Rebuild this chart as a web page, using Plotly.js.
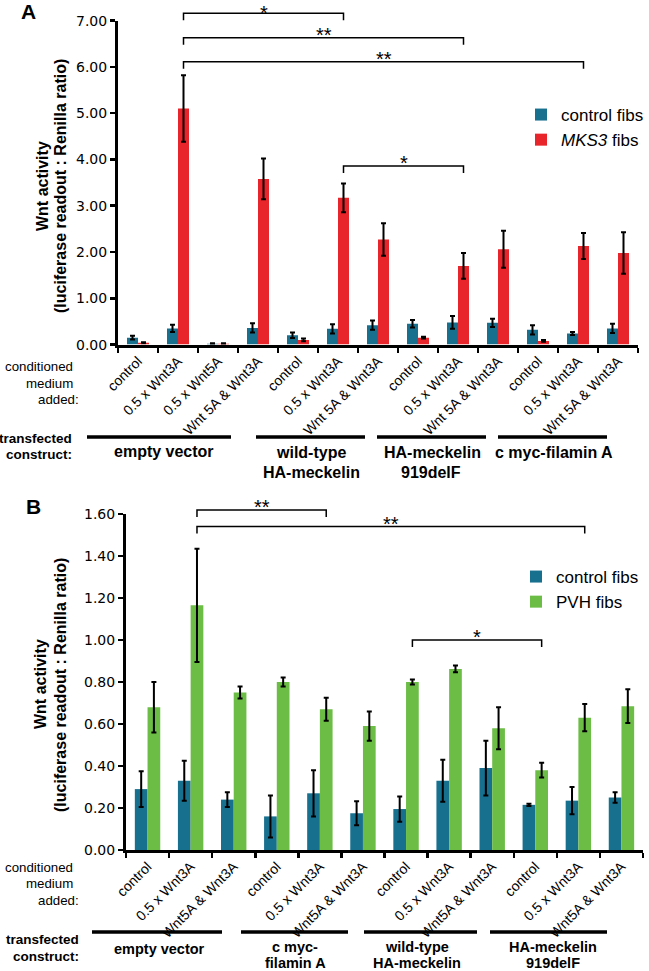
<!DOCTYPE html>
<html>
<head>
<meta charset="utf-8">
<script src="https://cdn.plot.ly/plotly-3.0.1.min.js"></script>
<style>html,body{margin:0;padding:0;background:#fff;}#chart{width:649px;height:971px;}</style>
</head>
<body>
<div id="chart"></div>
<script>
// ---------- Panel A data ----------
const groupsA = ['empty vector','empty vector','empty vector','empty vector',
  'wild-type HA-meckelin','wild-type HA-meckelin','wild-type HA-meckelin',
  'HA-meckelin 919delF','HA-meckelin 919delF','HA-meckelin 919delF',
  'c myc-filamin A','c myc-filamin A','c myc-filamin A'];
const conditionsA = ['control','0.5 x Wnt3A','0.5 x Wnt5A','Wnt 5A & Wnt3A',
  'control','0.5 x Wnt3A','Wnt 5A & Wnt3A',
  'control','0.5 x Wnt3A','Wnt 5A & Wnt3A',
  'control','0.5 x Wnt3A','Wnt 5A & Wnt3A'];
const controlA    = [0.15, 0.35, 0.02, 0.36, 0.20, 0.34, 0.42, 0.45, 0.48, 0.47, 0.32, 0.24, 0.35];
const controlErrA = [0.04, 0.08, 0.01, 0.10, 0.06, 0.10, 0.10, 0.08, 0.14, 0.09, 0.10, 0.03, 0.10];
const mks3A       = [0.04, 5.10, 0.02, 3.58, 0.10, 3.17, 2.27, 0.15, 1.70, 2.06, 0.08, 2.13, 1.98];
const mks3ErrA    = [0.01, 0.72, 0.01, 0.44, 0.03, 0.31, 0.35, 0.02, 0.28, 0.40, 0.02, 0.28, 0.45];
const yTicksA = [0,1,2,3,4,5,6,7];
// comparisons: [from index, to index, label]
const sigA = [[1,5,'*'],[1,8,'**'],[1,11,'**'],[5,8,'*']];
const sigLevelA = [7.16, 6.63, 6.11, 3.86];

// ---------- Panel B data ----------
const groupsB = ['empty vector','empty vector','empty vector',
  'c myc-filamin A','c myc-filamin A','c myc-filamin A',
  'wild-type HA-meckelin','wild-type HA-meckelin','wild-type HA-meckelin',
  'HA-meckelin 919delF','HA-meckelin 919delF','HA-meckelin 919delF'];
const conditionsB = ['control','0.5 x Wnt3A','Wnt5A & Wnt3A',
  'control','0.5 x Wnt3A','Wnt5A & Wnt3A',
  'control','0.5 x Wnt3A','Wnt5A & Wnt3A',
  'control','0.5 x Wnt3A','Wnt5A & Wnt3A'];
const controlB    = [0.29, 0.33, 0.24, 0.16, 0.27, 0.175, 0.195, 0.33, 0.39, 0.215, 0.235, 0.25];
const controlErrB = [0.085,0.095,0.035,0.10, 0.11, 0.057, 0.06,  0.10, 0.13, 0.005, 0.065, 0.025];
const pvhB        = [0.68, 1.165,0.75, 0.80, 0.67, 0.59,  0.80,  0.862,0.58, 0.38,  0.63,  0.685];
const pvhErrB     = [0.12, 0.27, 0.028,0.022,0.055,0.07,  0.012, 0.016,0.10, 0.035, 0.065, 0.08];
const yTicksB = [0,0.2,0.4,0.6,0.8,1.0,1.2,1.4,1.6];
const sigB = [[1,4,'**'],[1,10,'**'],[6,9,'*']];
const sigLevelB = [1.619, 1.54, 1.0];

// ---------- styling / geometry ----------
const W = 649, H = 971;
const px = v => v / W;
const py = v => 1 - v / H;
const TEAL = '#18708f', RED = '#e8252b', GREEN = '#6cbd46';
const SANS = 'Liberation Sans, Arial, sans-serif';
const TICKF = 'DejaVu Sans, Verdana, sans-serif';

const domA = {x:[118,638], y:[20.6,344.6], ymax:7};
const domB = {x:[126,643], y:[514,850], ymax:1.6};

const ids = (g,c) => g.map((v,i)=> v + '|' + c[i]);
const xA = ids(groupsA, conditionsA);
const xB = ids(groupsB, conditionsB);

const bwA = 0.275, bwB = 0.295;

function barTrace(x, y, err, name, color, xa, ya, w, off, legend){
  return {type:'bar', x:x, y:y, name:name, xaxis:xa, yaxis:ya,
    width:w, offset:off, marker:{color:color, line:{width:0}}, legend:legend,
    error_y:{type:'data', array:err, visible:true, color:'#000', thickness:2, width:2.5}};
}

const data = [
  barTrace(xA, controlA, controlErrA, 'control fibs', TEAL, 'x', 'y', bwA, -bwA, 'legend'),
  barTrace(xA, mks3A, mks3ErrA, '<i>MKS3</i> fibs', RED, 'x', 'y', bwA, 0, 'legend'),
  barTrace(xB, controlB, controlErrB, 'control fibs', TEAL, 'x2', 'y2', bwB, -bwB, 'legend2'),
  barTrace(xB, pvhB, pvhErrB, 'PVH fibs', GREEN, 'x2', 'y2', bwB, 0, 'legend2')
];

function xAxis(dom, cats, labels, anchor){
  return {domain:[px(dom.x[0]), px(dom.x[1])], type:'category', categoryorder:'array', categoryarray:cats,
    anchor:anchor,
    tickmode:'array', tickvals:cats, ticktext:labels, tickangle:-45, tickson:'boundaries',
    ticks:'outside', ticklen:5, tickwidth:2.5, tickcolor:'#000',
    showline:true, linewidth:3, linecolor:'#000', showgrid:false, zeroline:false,
    range:[-0.5, cats.length-0.5], fixedrange:true,
    tickfont:{family:SANS, size:14, color:'#000'}};
}
function yAxis(dom, ticks, anchor){
  return {domain:[py(dom.y[1]), py(dom.y[0])], range:[0, dom.ymax], anchor:anchor,
    tickmode:'array', tickvals:ticks, ticktext:ticks.map(v=>v.toFixed(2)),
    ticks:'outside', ticklen:5, tickwidth:2.5, tickcolor:'#000',
    showline:true, linewidth:3, linecolor:'#000', showgrid:false, zeroline:false,
    tickfont:{family:TICKF, size:14, color:'#000'}};
}

// value -> paper y
const vy = (dom, v) => py(dom.y[1] - (dom.y[1]-dom.y[0]) * v / dom.ymax);

const shapes = [];
const annotations = [];

function brackets(sig, levels, dom, xa, bw){
  sig.forEach((s,k)=>{
    const x0 = s[0] + bw/2, x1 = s[1] + bw/2;
    const yTop = vy(dom, levels[k]);
    const leg = 7 / H;
    shapes.push({type:'path', xref:xa, yref:'paper',
      path:`M${x0},${yTop-leg} L${x0},${yTop} L${x1},${yTop} L${x1},${yTop-leg}`,
      line:{color:'#000', width:1.5}});
    // star text box top (pixels), kept inside the canvas
    const linePx = (1 - yTop) * H;
    const boxTop = Math.max(0.5, linePx - 16);
    annotations.push({xref:xa, yref:'paper', x:(x0+x1)/2, y:py(boxTop), yanchor:'top', xanchor:'center',
      text:s[2], showarrow:false, font:{family:SANS, size:20, color:'#000'}});
  });
}
brackets(sigA, sigLevelA, domA, 'x', bwA);
brackets(sigB, sigLevelB, domB, 'x2', bwB);

// construct group lines and labels
function groupLine(x0, x1, y){
  shapes.push({type:'line', xref:'paper', yref:'paper', x0:px(x0), x1:px(x1), y0:py(y), y1:py(y),
    line:{color:'#000', width:3.5}});
}
function label(x, y, text, size, bold, xanchor, yanchor, align, angle){
  annotations.push({xref:'paper', yref:'paper', x:px(x), y:py(y), text: bold ? '<b>'+text+'</b>' : text,
    showarrow:false, xanchor:xanchor||'center', yanchor:yanchor||'middle', align:align||'center',
    textangle: angle||0, font:{family:SANS, size:size, color:'#000'}});
}

// y-axis titles
label(43, 186, 'Wnt activity', 16, true, 'center', 'middle', 'center', -90);
label(61, 186, '(luciferase readout : Renilla ratio)', 16, true, 'center', 'middle', 'center', -90);
label(40, 684, 'Wnt activity', 16, true, 'center', 'middle', 'center', -90);
label(60, 685, '(luciferase readout : Renilla ratio)', 16, true, 'center', 'middle', 'center', -90);

// Panel A
[[87,231],[256,365],[377,486],[498,607]].forEach(l=>groupLine(l[0], l[1], 437));
label(164, 451, 'empty vector', 16, true);
label(311, 452, 'wild-type', 16, true);
label(311, 472, 'HA-meckelin', 16, true);
label(432, 452, 'HA-meckelin', 16, true);
label(431, 472, '919delF', 16, true);
label(554, 452, 'c myc-filamin A', 16, true);
label(75, 367, 'conditioned', 13.3, false, 'right');
label(75, 383, 'medium', 13.3, false, 'right');
label(81, 399, 'added:', 13.3, false, 'right');
label(74, 438, 'transfected', 13.5, true, 'right');
label(74, 454, 'construct:', 13.5, true, 'right');
label(29, 12, 'A', 21, true);

// Panel B
[[92,222],[241,348],[364,477],[490,607]].forEach(l=>groupLine(l[0], l[1], 932));
label(159, 949, 'empty vector', 14.5, true);
label(295, 947, 'c myc-', 14.5, true);
label(295, 963, 'filamin A', 14.5, true);
label(417, 947, 'wild-type', 14.5, true);
label(417, 963, 'HA-meckelin', 14.5, true);
label(553, 947, 'HA-meckelin', 14.5, true);
label(553, 963, '919delF', 14.5, true);
label(75, 867, 'conditioned', 13.3, false, 'right');
label(75, 883, 'medium', 13.3, false, 'right');
label(81, 900, 'added:', 13.3, false, 'right');
label(81, 939, 'transfected', 13.5, true, 'right');
label(81, 956, 'construct:', 13.5, true, 'right');
label(33, 507, 'B', 21, true);

const legendStyle = (x, y) => ({x:px(x), y:py(y), xanchor:'left', yanchor:'top', bgcolor:'rgba(0,0,0,0)',
  font:{family:SANS, size:17, color:'#000'}, itemwidth:30, tracegroupgap:0, borderwidth:0});

const layout = {
  width:W, height:H, margin:{l:0, r:0, t:0, b:0}, paper_bgcolor:'#fff', plot_bgcolor:'#fff',
  showlegend:true, barmode:'overlay',
  xaxis: xAxis(domA, xA, conditionsA, 'y'),
  yaxis: yAxis(domA, yTicksA, 'x'),
  xaxis2: xAxis(domB, xB, conditionsB, 'y2'),
  yaxis2: yAxis(domB, yTicksB, 'x2'),
  legend: legendStyle(521, 97),
  legend2: legendStyle(516, 559),
  shapes: shapes, annotations: annotations
};

Plotly.newPlot('chart', data, layout, {staticPlot:true, displayModeBar:false});
</script>
</body>
</html>
